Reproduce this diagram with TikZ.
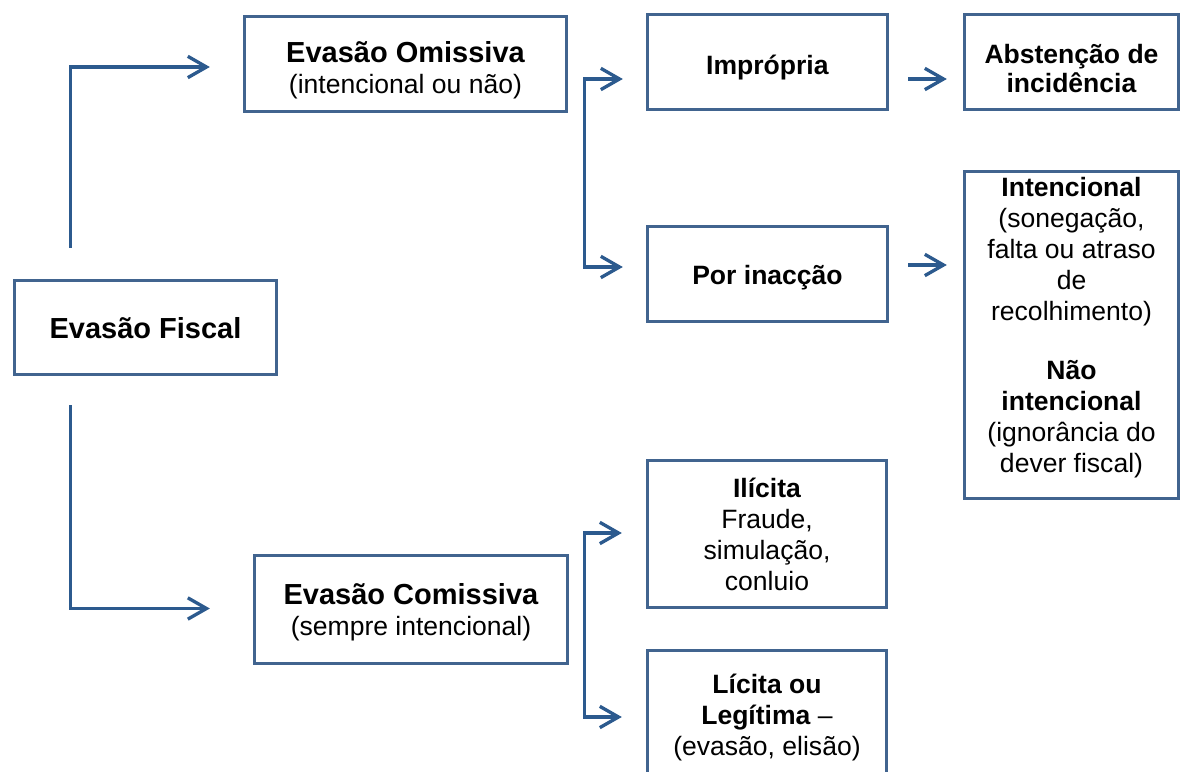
\documentclass[tikz,border=0pt]{standalone}
\usepackage{fontspec}
\setmainfont{Liberation Sans}
\usetikzlibrary{arrows.meta,calc}
\newlength\pxl
\setlength\pxl{0.75pt}
\definecolor{boxline}{HTML}{41648F}
\definecolor{linkline}{HTML}{2C5A8E}
\tikzset{
  box/.style={draw=boxline, line width=2.5pt, inner sep=0pt,
    font=\fontsize{19.9pt}{23.3pt}\selectfont},
  link/.style={draw=linkline, line width=2.5pt, -{Straight Barb[length=14pt,width=16pt]}},
  fork/.style={link, {Straight Barb[length=14pt,width=16pt]}-{Straight Barb[length=14pt,width=16pt]}},
}
\newcommand{\ttl}[1]{{\fontsize{21.75pt}{24pt}\selectfont\bfseries #1}}
\newsavebox\txtbox
\newcommand{\boxtext}[2][0pt]{\sbox\txtbox{\begin{tabular}{@{}c@{}}#2\end{tabular}}%
  \raisebox{#1}[\ht\txtbox][\dp\txtbox]{\usebox\txtbox}}
\begin{document}
\begin{tikzpicture}[x=0.75pt,y=0.75pt]
        \clip (0,0) rectangle (1181,771);
        % boxes
        \node[box, minimum width=262\pxl, minimum height=94\pxl] (fiscal) at (145.5,443.5) {\boxtext[-3.7pt]{\ttl{Evasão Fiscal}}};
        \node[box, minimum width=322\pxl, minimum height=95\pxl] (omissiva) at (405.5,707) {\boxtext[-6pt]{\ttl{Evasão Omissiva}\\(intencional ou não)}};
        \node[box, minimum width=313\pxl, minimum height=108\pxl] (comissiva) at (411,161.5) {\boxtext[-3.4pt]{\ttl{Evasão Comissiva}\\(sempre intencional)}};
        \node[box, minimum width=240\pxl, minimum height=95\pxl] (impropria) at (767.5,709) {\boxtext[-4.5pt]{\textbf{Imprópria}}};
        \node[box, minimum width=240\pxl, minimum height=95\pxl] (inaccao) at (767.5,497) {\boxtext[-3pt]{\textbf{Por inacção}}};
        \node[box, minimum width=214\pxl, minimum height=95\pxl] (abstencao) at (1071.5,709) {\boxtext[-7pt]{\textbf{Abstenção de}\\[-1.5pt]\textbf{incidência}}};
        \node[box, minimum width=214\pxl, minimum height=327\pxl] (intencional) at (1071.5,436) {\boxtext[5pt]{\textbf{Intencional}\\(sonegação,\\falta ou atraso\\de\\recolhimento)\\[21pt]\textbf{Não}\\\textbf{intencional}\\(ignorância do\\dever fiscal)}};
        \node[box, minimum width=239\pxl, minimum height=147\pxl] (ilicita) at (767,237) {\boxtext[-3pt]{\textbf{Ilícita}\\Fraude,\\simulação,\\conluio}};
        \node[box, minimum width=239\pxl, minimum height=129\pxl] (licita) at (767,56) {\boxtext[-2.3pt]{\textbf{Lícita ou}\\\textbf{Legítima} –\\(evasão, elisão)}};
        % connectors
        \draw[link] ($(fiscal.north)+(-75,31)$) |- ($(omissiva.west)+(-33,-3)$);
        \draw[link] ($(fiscal.south)+(-75,-29)$) |- ($(comissiva.west)+(-43,1)$);
        \coordinate (omiFork) at ($(omissiva.east)+(16,0)$);
        \coordinate (impIn) at ($(impropria.west)+(-23,-17)$);
        \coordinate (inaIn) at ($(inaccao.west)+(-23,7)$);
        \draw[fork] (impIn) -- (impIn -| omiFork) -- (inaIn -| omiFork) -- (inaIn);
        \coordinate (comFork) at ($(comissiva.east)+(15,0)$);
        \coordinate (iliIn) at ($(ilicita.west)+(-24,1)$);
        \coordinate (licIn) at ($(licita.west)+(-24,-2)$);
        \draw[fork] (iliIn) -- (iliIn -| comFork) -- (licIn -| comFork) -- (licIn);
        \draw[link] ($(impropria.east)+(19,-17)$) -- ($(abstencao.west)+(-16,-17)$);
        \draw[link] ($(inaccao.east)+(19,9)$) -- ($(intencional.west)+(-16,70)$);
      \end{tikzpicture}
\end{document}
